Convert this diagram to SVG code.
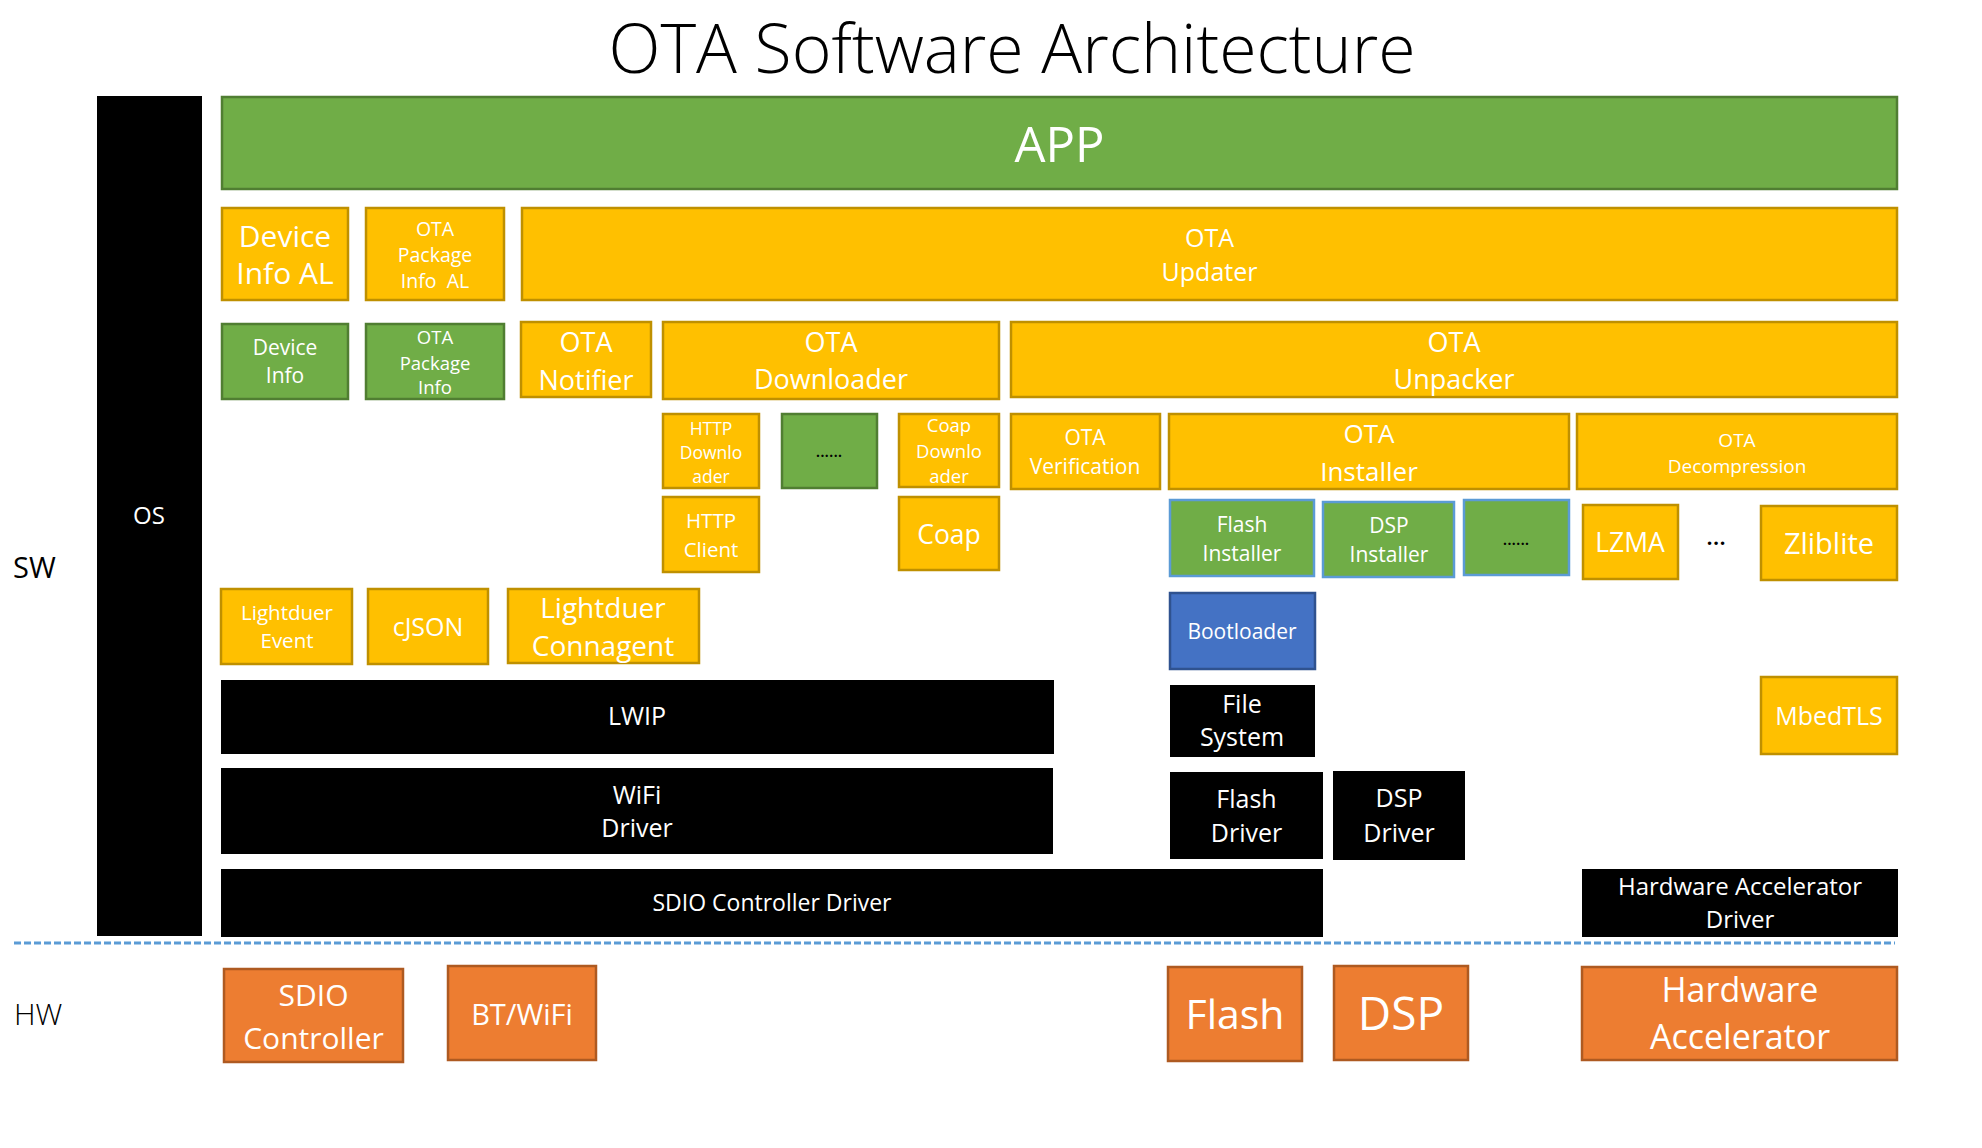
<svg xmlns="http://www.w3.org/2000/svg" width="1982" height="1148" viewBox="0 0 1982 1148">
<style>
text{font-family:"Open Sans","Noto Sans","Liberation Sans",sans-serif;text-anchor:middle;fill:#fff}
.y{fill:#FFC000;stroke:#BF9000;stroke-width:2.5}
.g{fill:#70AD47;stroke:#507E32;stroke-width:2.5}
.gb{fill:#70AD47;stroke:#5B9BD5;stroke-width:2.5}
.bl{fill:#4472C4;stroke:#2F528F;stroke-width:2.5}
.k{fill:#000}
.o{fill:#ED7D31;stroke:#AE5A21;stroke-width:2.5}
.lbl{fill:#000;text-anchor:start}
.dots{fill:#000;font-weight:600}
</style>
<rect width="1982" height="1148" fill="#fff"/>
<text x="1012" y="73" font-size="68" font-weight="300" style="fill:#000">OTA Software Architecture</text>
<text class="lbl" x="13" y="578" font-size="29">SW</text>
<text class="lbl" x="14" y="1025" font-size="30" font-weight="300">HW</text>

<g id="os"><rect class="k" x="97" y="96" width="105" height="840"/><text x="149" y="524" font-size="24">OS</text></g>
<g id="app"><rect class="g" x="222" y="97" width="1675" height="92"/><text x="1059.5" y="162" font-size="49">APP</text></g>

<g id="device-info-al"><rect class="y" x="222" y="208" width="126" height="92"/><text font-size="30"><tspan x="285" y="247">Device</tspan><tspan x="285" y="284">Info AL</tspan></text></g>
<g id="ota-package-info-al"><rect class="y" x="366" y="208" width="138" height="92"/><text font-size="19.5" xml:space="preserve"><tspan x="435" y="236">OTA</tspan><tspan x="435" y="262">Package</tspan><tspan x="435" y="288">Info  AL</tspan></text></g>
<g id="ota-updater"><rect class="y" x="522" y="208" width="1375" height="92"/><text font-size="25"><tspan x="1209.5" y="247">OTA</tspan><tspan x="1209.5" y="281">Updater</tspan></text></g>

<g id="device-info"><rect class="g" x="222" y="324" width="126" height="75"/><text font-size="21"><tspan x="285" y="355">Device</tspan><tspan x="285" y="383">Info</tspan></text></g>
<g id="ota-package-info"><rect class="g" x="366" y="324" width="138" height="75"/><text font-size="18.5"><tspan x="435" y="344">OTA</tspan><tspan x="435" y="370">Package</tspan><tspan x="435" y="394">Info</tspan></text></g>
<g id="ota-notifier"><rect class="y" x="521" y="322" width="130" height="75"/><text font-size="27"><tspan x="586" y="352">OTA</tspan><tspan x="586" y="390">Notifier</tspan></text></g>
<g id="ota-downloader"><rect class="y" x="663" y="322" width="336" height="77"/><text font-size="27"><tspan x="831" y="352">OTA</tspan><tspan x="831" y="389">Downloader</tspan></text></g>
<g id="ota-unpacker"><rect class="y" x="1011" y="322" width="886" height="75"/><text font-size="27"><tspan x="1454" y="352">OTA</tspan><tspan x="1454" y="389">Unpacker</tspan></text></g>

<g id="http-downloader"><rect class="y" x="663" y="414" width="96" height="74"/><text font-size="17.5"><tspan x="711" y="435">HTTP</tspan><tspan x="711" y="459">Downlo</tspan><tspan x="711" y="483">ader</tspan></text></g>
<g id="downloader-more"><rect class="g" x="782" y="414" width="95" height="74"/><text class="dots" x="829" y="457" font-size="16">......</text></g>
<g id="coap-downloader"><rect class="y" x="899" y="414" width="100" height="73"/><text font-size="18.5"><tspan x="949" y="432">Coap</tspan><tspan x="949" y="458">Downlo</tspan><tspan x="949" y="483">ader</tspan></text></g>
<g id="ota-verification"><rect class="y" x="1011" y="414" width="149" height="75"/><text font-size="21"><tspan x="1085" y="445">OTA</tspan><tspan x="1085" y="474">Verification</tspan></text></g>
<g id="ota-installer"><rect class="y" x="1169" y="414" width="400" height="75"/><text font-size="26"><tspan x="1369" y="443">OTA</tspan><tspan x="1369" y="481">Installer</tspan></text></g>
<g id="ota-decompression"><rect class="y" x="1577" y="414" width="320" height="75"/><text font-size="19"><tspan x="1737" y="447">OTA</tspan><tspan x="1737" y="473">Decompression</tspan></text></g>

<g id="http-client"><rect class="y" x="663" y="497" width="96" height="75"/><text font-size="20.5"><tspan x="711" y="528">HTTP</tspan><tspan x="711" y="557">Client</tspan></text></g>
<g id="coap"><rect class="y" x="899" y="497" width="100" height="73"/><text x="949" y="544" font-size="26.5">Coap</text></g>
<g id="flash-installer"><rect class="gb" x="1170" y="500" width="144" height="76"/><text font-size="21"><tspan x="1242" y="532">Flash</tspan><tspan x="1242" y="561">Installer</tspan></text></g>
<g id="dsp-installer"><rect class="gb" x="1323" y="502" width="131" height="75"/><text font-size="21"><tspan x="1389" y="533">DSP</tspan><tspan x="1389" y="562">Installer</tspan></text></g>
<g id="installer-more"><rect class="gb" x="1464" y="500" width="105" height="75"/><text class="dots" x="1516" y="545" font-size="16">......</text></g>
<g id="lzma"><rect class="y" x="1583" y="505" width="95" height="74"/><text x="1630" y="552" font-size="26.5">LZMA</text></g>
<g id="decompress-more"><text class="dots" x="1716" y="545" font-size="24">…</text></g>
<g id="zliblite"><rect class="y" x="1761" y="506" width="136" height="74"/><text x="1829" y="554" font-size="29">Zliblite</text></g>

<g id="lightduer-event"><rect class="y" x="221" y="589" width="131" height="75"/><text font-size="20.5"><tspan x="287" y="620">Lightduer</tspan><tspan x="287" y="648">Event</tspan></text></g>
<g id="cjson"><rect class="y" x="368" y="589" width="120" height="75"/><text x="428" y="636" font-size="25">cJSON</text></g>
<g id="lightduer-connagent"><rect class="y" x="508" y="589" width="191" height="74"/><text font-size="28"><tspan x="603" y="618">Lightduer</tspan><tspan x="603" y="656">Connagent</tspan></text></g>
<g id="bootloader"><rect class="bl" x="1170" y="593" width="145" height="76"/><text x="1242" y="639" font-size="21">Bootloader</text></g>

<g id="lwip"><rect class="k" x="221" y="680" width="833" height="74"/><text x="637" y="725" font-size="25">LWIP</text></g>
<g id="file-system"><rect class="k" x="1170" y="685" width="145" height="72"/><text font-size="25"><tspan x="1242" y="713">File</tspan><tspan x="1242" y="746">System</tspan></text></g>
<g id="mbedtls"><rect class="y" x="1761" y="677" width="136" height="77"/><text x="1829" y="725" font-size="25">MbedTLS</text></g>

<g id="wifi-driver"><rect class="k" x="221" y="768" width="832" height="86"/><text font-size="25"><tspan x="637" y="804">WiFi</tspan><tspan x="637" y="837">Driver</tspan></text></g>
<g id="flash-driver"><rect class="k" x="1170" y="772" width="153" height="87"/><text font-size="25"><tspan x="1246.5" y="808">Flash</tspan><tspan x="1246.5" y="842">Driver</tspan></text></g>
<g id="dsp-driver"><rect class="k" x="1333" y="771" width="132" height="89"/><text font-size="25"><tspan x="1399" y="807">DSP</tspan><tspan x="1399" y="842">Driver</tspan></text></g>

<g id="sdio-controller-driver"><rect class="k" x="221" y="869" width="1102" height="68"/><text x="772" y="911" font-size="23">SDIO Controller Driver</text></g>
<g id="hw-accel-driver"><rect class="k" x="1582" y="869" width="316" height="68"/><text font-size="24"><tspan x="1740" y="895">Hardware Accelerator</tspan><tspan x="1740" y="928">Driver</tspan></text></g>

<g id="divider"><line x1="14" y1="943" x2="1895" y2="943" stroke="#5B9BD5" stroke-width="3" stroke-dasharray="7 3"/></g>

<g id="sdio-controller"><rect class="o" x="224" y="969" width="179" height="93"/><text font-size="30"><tspan x="313.5" y="1006">SDIO</tspan><tspan x="313.5" y="1049">Controller</tspan></text></g>
<g id="bt-wifi"><rect class="o" x="448" y="966" width="148" height="94"/><text x="522" y="1025" font-size="29">BT/WiFi</text></g>
<g id="flash"><rect class="o" x="1168" y="967" width="134" height="94"/><text x="1235" y="1029" font-size="41">Flash</text></g>
<g id="dsp"><rect class="o" x="1334" y="966" width="134" height="94"/><text x="1401" y="1030" font-size="46">DSP</text></g>
<g id="hw-accelerator"><rect class="o" x="1582" y="967" width="315" height="93"/><text font-size="34"><tspan x="1740" y="1002">Hardware</tspan><tspan x="1740" y="1049">Accelerator</tspan></text></g>
</svg>
